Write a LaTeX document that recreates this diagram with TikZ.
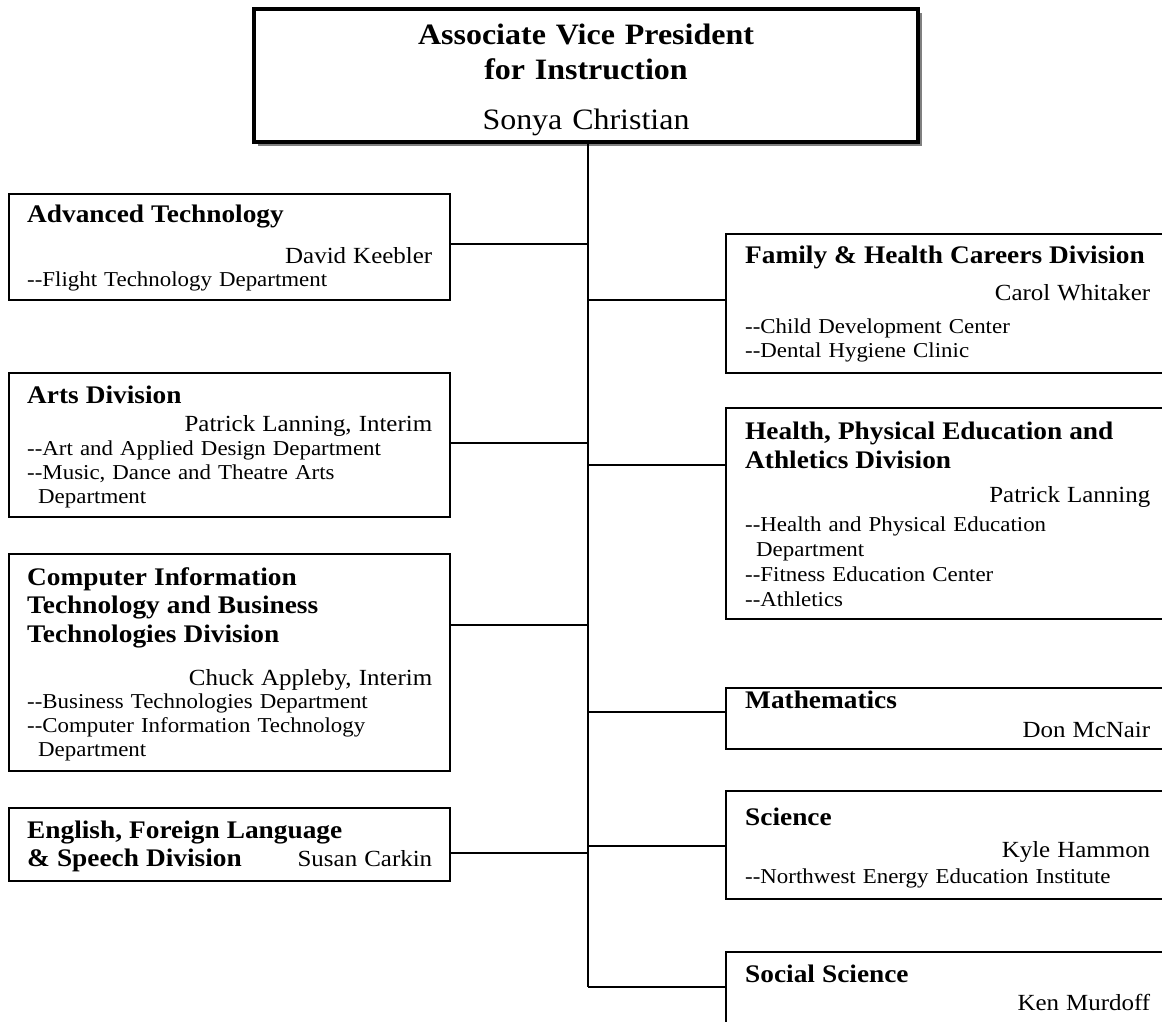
\documentclass[tikz,border=0pt]{standalone}
\usepackage{fontspec}
\setmainfont[FakeStretch=1.08]{Liberation Serif}
\usetikzlibrary{shadows}
\newcommand{\hd}{\fontsize{25.3}{24}\selectfont\bfseries}
\newcommand{\nm}{\fontsize{23.1}{24}\selectfont}
\newcommand{\dsh}{-\kern0pt-}
\newcommand{\rt}[1]{\hspace*{\fill}{\nm #1}}

\begin{document}
\begin{tikzpicture}[x=1pt,y=-1pt,
	unit/.style={draw,line width=1.7pt,anchor=north west,minimum width=441,inner sep=0pt},
	txt/.style={anchor=base west,align=left,text width=405,inner sep=0pt,font=\fontsize{21.2}{24}\selectfont},
	link/.style={line width=1.7pt}]
	\useasboundingbox(0,0)rectangle(1162,1022);
	\clip(0,0)rectangle(1162,1022);

	\node[draw,line width=4pt,minimum width=664,minimum height=133,inner sep=0pt,fill=white,
		drop shadow={shadow xshift=4pt,shadow yshift=-4pt,fill=black!50,opacity=1}] at (586,75.5)(avp){};
	\node[anchor=base,align=center,text width=620,inner sep=0pt,font=\fontsize{29.6}{35}\selectfont] at (586,45)(avpt)
		{\textbf{Associate Vice President}\\\textbf{for Instruction}\\[15pt]Sonya Christian};

	% left column
	\node[unit,minimum height=106] at (8,193)(adv){};
	\node[txt] at ([shift={(19,29)}]adv.north west)(advt){{\hd Advanced Technology}\\[17pt]\rt{David Keebler}\\\dsh Flight Technology Department};
	\node[unit,minimum height=144] at (8,372)(arts){};
	\node[txt] at ([shift={(19,31)}]arts.north west)(artst){{\hd Arts Division}\\[4pt]\rt{Patrick Lanning, Interim}\\\dsh Art and Applied Design Department\\\dsh Music, Dance and Theatre Arts\\\hspace*{11pt}Department};
	\node[unit,minimum height=217] at (8,553)(cit){};
	\node[txt] at ([shift={(19,32)}]cit.north west)(citt){{\hd Computer Information}\\[4.5pt]{\hd Technology and Business}\\[4.5pt]{\hd Technologies Division}\\[19pt]\rt{Chuck Appleby, Interim}\\[-1pt]\dsh Business Technologies Department\\\dsh Computer Information Technology\\\hspace*{11pt}Department};
	\node[unit,minimum height=73] at (8,807)(eng){};
	\node[txt] at ([shift={(19,31)}]eng.north west)(engt){{\hd English, Foreign Language}\\[4pt]{\hd\& Speech Division}\rt{Susan Carkin}};

	% right column
	\node[unit,minimum height=139] at (725,233)(fam){};
	\node[txt] at ([shift={(20,30)}]fam.north west)(famt){{\hd Family \& Health Careers Division}\\[13pt]\rt{Carol Whitaker}\\[9pt]\dsh Child Development Center\\\dsh Dental Hygiene Clinic};
	\node[unit,minimum height=211] at (725,407)(hpe){};
	\node[txt] at ([shift={(20,32)}]hpe.north west)(hpet){{\hd Health, Physical Education and}\\[5pt]{\hd Athletics Division}\\[10pt]\rt{Patrick Lanning}\\[5pt]\dsh Health and Physical Education\\[1pt]\hspace*{11pt}Department\\[1pt]\dsh Fitness Education Center\\[1pt]\dsh Athletics};
	\node[unit,minimum height=61] at (725,687)(math){};
	\node[txt] at ([shift={(20,21)}]math.north west)(matht){{\hd Mathematics}\\[5pt]\rt{Don McNair}};
	\node[unit,minimum height=108] at (725,790)(sci){};
	\node[txt] at ([shift={(20,35)}]sci.north west)(scit){{\hd Science}\\[8pt]\rt{Kyle Hammon}\\[2pt]\dsh Northwest Energy Education Institute};
	\node[unit,minimum height=100] at (725,951)(soc){};
	\node[txt] at ([shift={(20,31)}]soc.north west)(soct){{\hd Social Science}\\[4pt]\rt{Ken Murdoff}};

	% trunk and branches
	\coordinate (l1) at (588,244);
	\coordinate (l2) at (588,443);
	\coordinate (l3) at (588,625);
	\coordinate (l4) at (588,853);
	\coordinate (r1) at (588,300);
	\coordinate (r2) at (588,465);
	\coordinate (r3) at (588,712);
	\coordinate (r4) at (588,846);
	\coordinate (r5) at (588,987);
	\path[link](avp.south-|r5)edge(r5)
		(adv.east|-l1)edge(l1)(arts.east|-l2)edge(l2)(cit.east|-l3)edge(l3)(eng.east|-l4)edge(l4)
		(r1)edge(r1-|fam.west)(r2)edge(r2-|hpe.west)(r3)edge(r3-|math.west)(r4)edge(r4-|sci.west)(r5)edge(r5-|soc.west);
\end{tikzpicture}
\end{document}
